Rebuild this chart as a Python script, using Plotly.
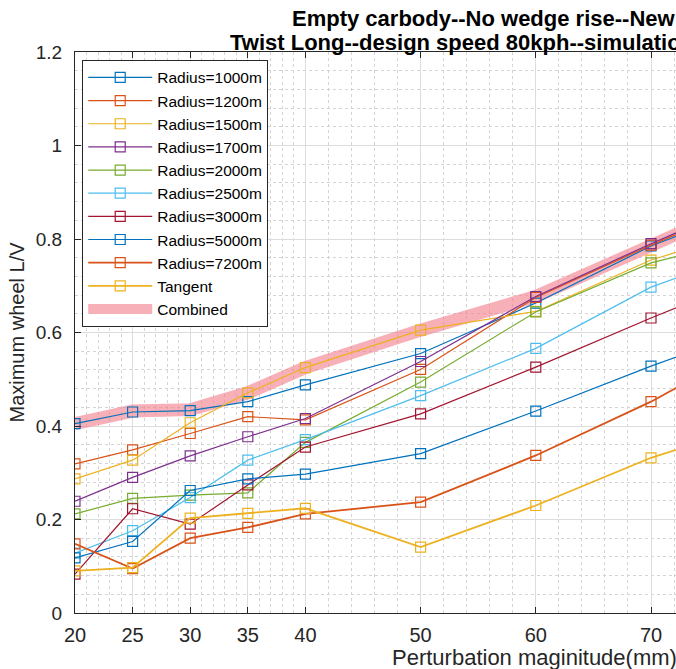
import plotly.graph_objects as go

x_vals = [20, 25, 30, 35, 40, 50, 60, 70, 80]

r1000 = [0.405, 0.430, 0.433, 0.452, 0.488, 0.555, 0.663, 0.785, 0.880]
r1200 = [0.319, 0.349, 0.384, 0.420, 0.413, 0.521, 0.675, 0.787, 0.890]
r1500 = [0.287, 0.327, 0.407, 0.471, 0.525, 0.605, 0.645, 0.755, 0.830]
r1700 = [0.239, 0.290, 0.336, 0.377, 0.416, 0.538, 0.677, 0.790, 0.895]
r2000 = [0.212, 0.245, 0.252, 0.257, 0.365, 0.494, 0.644, 0.749, 0.810]
r2500 = [0.128, 0.176, 0.247, 0.327, 0.371, 0.465, 0.566, 0.697, 0.785]
r3000 = [0.083, 0.223, 0.190, 0.274, 0.355, 0.426, 0.526, 0.631, 0.730]
r5000 = [0.118, 0.153, 0.262, 0.287, 0.297, 0.341, 0.432, 0.528, 0.616]
r7200 = [0.148, 0.095, 0.160, 0.183, 0.212, 0.237, 0.337, 0.452, 0.586]
tangent = [0.090, 0.097, 0.203, 0.213, 0.224, 0.141, 0.230, 0.332, 0.410]
combined = [0.405, 0.432, 0.435, 0.471, 0.525, 0.605, 0.677, 0.790, 0.895]

names = ["Radius=1000m", "Radius=1200m", "Radius=1500m", "Radius=1700m",
         "Radius=2000m", "Radius=2500m", "Radius=3000m", "Radius=5000m",
         "Radius=7200m", "Tangent"]
series = [r1000, r1200, r1500, r1700, r2000, r2500, r3000, r5000, r7200, tangent]
colors = ["#0072BD", "#D95319", "#EDB120", "#7E2F8E", "#77AC30",
          "#4DBEEE", "#A2142F", "#0072BD", "#D95319", "#EDB120"]
widths = [1.2, 1.2, 1.2, 1.2, 1.2, 1.2, 1.2, 1.2, 1.8, 1.8]

x_ticks = [20, 25, 30, 35, 40, 50, 60, 70, 80]
x_minor = [21, 22, 23, 24, 26, 27, 28, 29, 31, 32, 33, 34, 36, 37, 38, 39,
           42, 44, 46, 48, 52, 54, 56, 58, 62, 64, 66, 68, 72, 74, 76, 78]
y_ticks = [0, 0.2, 0.4, 0.6, 0.8, 1.0, 1.2]
y_ticktext = ["0", "0.2", "0.4", "0.6", "0.8", "1", "1.2"]

fig = go.Figure()

fig.add_trace(go.Scatter(
    x=x_vals, y=combined, mode="lines", name="Combined",
    line=dict(color="rgba(242,128,140,0.62)", width=13),
    legendrank=2000))

for nm, ys, c, w in zip(names, series, colors, widths):
    fig.add_trace(go.Scatter(
        x=x_vals, y=ys, mode="lines+markers", name=nm,
        line=dict(color=c, width=w),
        marker=dict(symbol="square-open", size=10, color=c, line=dict(width=1.2)),
        legendrank=1000))

font_family = "Liberation Sans, Arial, sans-serif"
axis_color = "#262626"

fig.update_layout(
    width=676, height=669,
    margin=dict(l=75, r=0, t=52, b=56, autoexpand=False),
    paper_bgcolor="white", plot_bgcolor="white",
    font=dict(family=font_family, color=axis_color, size=17),
    showlegend=True,
    legend=dict(x=0.012, y=0.986, xanchor="left", yanchor="top",
                bgcolor="white", bordercolor="#262626", borderwidth=1,
                font=dict(size=15.5, color="#000000"), tracegroupgap=0,
                itemwidth=64),
    xaxis=dict(range=[20, 72.17], tickvals=x_ticks, ticks="inside", ticklen=6,
               tickcolor=axis_color, showline=True, linecolor=axis_color,
               linewidth=1, mirror="ticks", showgrid=True, gridcolor="#DDDDDD",
               gridwidth=1, zeroline=False, tickfont=dict(size=20),
               automargin=False, ticklabelstandoff=4,
               minor=dict(tickvals=x_minor, showgrid=True, gridcolor="#D4D4D4",
                          griddash="dot", gridwidth=1, ticks="")),
    yaxis=dict(range=[0, 1.2], tickvals=y_ticks, ticktext=y_ticktext,
               ticks="inside", ticklen=6, tickcolor=axis_color, showline=True,
               linecolor=axis_color, linewidth=1, mirror=False, showgrid=True,
               gridcolor="#DDDDDD", gridwidth=1, zeroline=False,
               tickfont=dict(size=19), automargin=False, ticklabelstandoff=8,
               title=dict(text="Maximum wheel L/V", font=dict(size=20), standoff=5),
               minor=dict(dtick=0.04, showgrid=True, gridcolor="#D4D4D4",
                          griddash="dot", gridwidth=1, ticks="")),
)

fig.add_annotation(text="<b>Empty carbody--No wedge rise--New wheel</b>",
                   xref="paper", yref="paper", x=(290 - 75) / 601, y=1.0 + (52 - 18) / 561,
                   xanchor="left", yanchor="middle", showarrow=False,
                   font=dict(size=22, color="#000000"))
fig.add_annotation(text="<b>Twist Long--design speed 80kph--simulation</b>",
                   xref="paper", yref="paper", x=(228 - 75) / 601, y=1.0 + (52 - 42) / 561,
                   xanchor="left", yanchor="middle", showarrow=False,
                   font=dict(size=22, color="#000000"))
fig.add_annotation(text="Perturbation maginitude(mm)",
                   xref="paper", yref="paper", x=(390 - 75) / 601, y=-(657 - 613) / 561,
                   xanchor="left", yanchor="middle", showarrow=False,
                   font=dict(size=22, color=axis_color))

fig.write_html("out.html", config={"displayModeBar": False},
               post_script="document.body.style.margin='0';")
